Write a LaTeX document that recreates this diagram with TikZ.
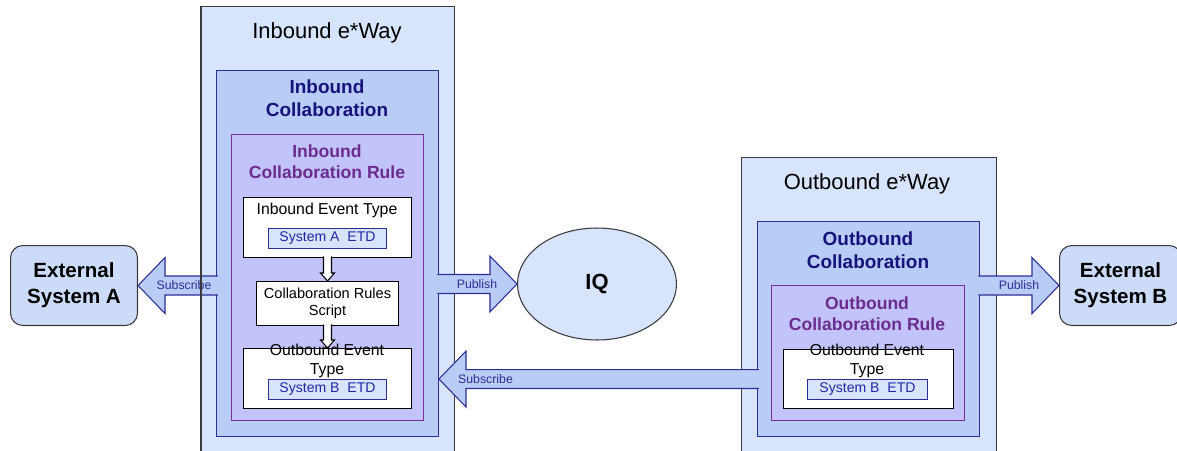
\documentclass[tikz,border=0pt]{standalone}
\usepackage{fontspec}
\setmainfont{Liberation Sans}
\usetikzlibrary{calc,shapes.geometric,positioning}

\definecolor{wayfill}{HTML}{D7E4FB}
\definecolor{waydraw}{HTML}{3A3A3A}
\definecolor{collfill}{HTML}{B9CCF6}
\definecolor{colldraw}{HTML}{2B2E96}
\definecolor{rulefill}{HTML}{C3C3FC}
\definecolor{ruledraw}{HTML}{7A2E9E}
\definecolor{navytext}{HTML}{14147A}
\definecolor{purpletext}{HTML}{6B2C8C}
\definecolor{etdtext}{HTML}{2626A6}
\definecolor{extfill}{HTML}{CCDCF8}

\tikzset{
  fat shaft/.store in=\fatshaft, fat head/.store in=\fathead, fat len/.store in=\fatlen,
  fat label/.store in=\fatlabel, fat gap/.store in=\fatgap,
  fat shaft=0.19cm, fat head=0.56cm, fat len=0.54cm, fat label=, fat gap=0.86cm,
  fatarrow/.style={to path={
    let \p1=($(\tikztostart)!-1pt!(\tikztotarget)$), \p2=(\tikztotarget),
        \p3=($(\p2)!\fatlen!(\p1)$) in
    ($(\p1)!\fatshaft!90:(\p2)$) -- ($(\p3)!\fatshaft!-90:(\p1)$) -- ($(\p3)!\fathead!-90:(\p1)$)
    -- (\p2) -- ($(\p3)!\fathead!90:(\p1)$) -- ($(\p3)!\fatshaft!90:(\p1)$) -- ($(\p1)!\fatshaft!-90:(\p2)$)
    ($(\p2)!\fatgap!(\p1)$) node[flowlabel] {\fatlabel}}},
}

\begin{document}
\begin{tikzpicture}[x=0.02cm, y=-0.02cm,
  box/.style={draw, line width=0.6pt, anchor=north west, inner sep=0pt},
  waybox/.style={box, draw=waydraw, fill=wayfill},
  collbox/.style={box, draw=colldraw, fill=collfill},
  rulebox/.style={box, draw=ruledraw, fill=rulefill},
  evtbox/.style={box, draw=black, fill=white},
  etdbox/.style={box, draw=colldraw, fill=wayfill, text=etdtext, font=\fontsize{8}{9.6}\selectfont},
  extbox/.style={box, draw=waydraw, fill=extfill, rounded corners=7pt, align=center, font=\fontsize{11.7}{14.8}\selectfont\bfseries},
  waytitle/.style={font=\fontsize{12.5}{15}\selectfont},
  colltitle/.style={align=center, text=navytext, font=\fontsize{10.8}{13.1}\selectfont\bfseries},
  ruletitle/.style={align=center, text=purpletext, font=\fontsize{10}{12}\selectfont\bfseries},
  evttext/.style={align=center, inner sep=0pt, font=\fontsize{9}{10.5}\selectfont},
  flowlabel/.style={text=colldraw, inner sep=0pt, font=\fontsize{7}{8}\selectfont},
  bigarrow/.style={fatarrow, fill=collfill, draw=colldraw, line width=0.6pt},
  smallarrow/.style={fatarrow, fill=white, draw=black, line width=0.6pt, fat shaft=0.08cm, fat head=0.14cm, fat len=0.16cm},
]
\useasboundingbox (0,0) rectangle (1177,450);
\node[waybox, minimum width=5.06cm, minimum height=9cm] (inWay) at (201,6) {};
\node[waybox, minimum width=5.1cm, minimum height=6cm] (outWay) at (741,157) {};
\node[collbox, minimum width=4.44cm, minimum height=7.32cm] (inColl) at (216,70) {};
\node[collbox, minimum width=4.44cm, minimum height=4.3cm] (outColl) at (757,221) {};
\node[rulebox, minimum width=3.84cm, minimum height=5.72cm] (inRule) at (231,134) {};
\node[rulebox, minimum width=3.86cm, minimum height=2.7cm] (outRule) at (771,285) {};
\node[evtbox, minimum width=3.36cm, minimum height=1.2cm] (inEvt) at (243,197) {};
\node[evtbox, minimum width=2.84cm, minimum height=0.88cm, align=center, font=\fontsize{8.3}{9.7}\selectfont] (script) at (256,281) {Collaboration Rules\\Script};
\node[evtbox, minimum width=3.36cm, minimum height=1.2cm] (midEvt) at (243,348) {};
\node[evtbox, minimum width=3.4cm, minimum height=1.18cm] (outEvt) at (783,349) {};
\node[etdbox, minimum width=2.36cm, minimum height=0.4cm] (etdA) at (268,228) {System A~ ETD};
\node[etdbox, minimum width=2.36cm, minimum height=0.4cm] (etdB) at (268,379) {System B~ ETD};
\node[etdbox, minimum width=2.4cm, minimum height=0.4cm] (etdOut) at (807,379) {System B~ ETD};
\node[extbox, minimum width=2.54cm, minimum height=1.6cm] (extA) at (10,245) {External\\System A};
\node[extbox, minimum width=2.44cm, minimum height=1.6cm] (extB) at (1059,245) {External\\System B};
\node[ellipse, draw=waydraw, fill=wayfill, line width=0.6pt, minimum width=3.18cm, minimum height=2.24cm, inner sep=0pt, font=\fontsize{12.5}{15}\selectfont\bfseries] (iq) at (597,284) {IQ};
\node[waytitle] (inWayT) at (327,33) {Inbound e*Way};
\node[waytitle] (outWayT) at (867,184) {Outbound e*Way};
\node[colltitle] (inCollT) at (327,98) {Inbound\\Collaboration};
\node[colltitle] (outCollT) at (868,250) {Outbound\\Collaboration};
\node[ruletitle] (inRuleT) at (327,162) {Inbound\\Collaboration Rule};
\node[ruletitle] (outRuleT) at (867,314) {Outbound\\Collaboration Rule};
\node[evttext] (inEvtT) at (327,210) {Inbound Event Type};
\node[evttext] (midEvtT) at (327,361) {Outbound Event\\Type};
\node[evttext] (outEvtT) at (867,361) {Outbound Event\\Type};
\draw[bigarrow, fat label=Subscribe, fat gap=0.92cm] (inColl.west |- extA.east) to (extA.east);
\draw[waydraw, line width=0.6pt] (inWay.north west) -- (inWay.south west);
\draw[bigarrow, fat label=Publish, fat gap=0.8cm] (inColl.east |- iq.west) to (iq.west);
\draw[bigarrow, fat label=Subscribe, fat gap=0.93cm] (outColl.west |- outEvt.west) to (inColl.east |- outEvt.west);
\draw[bigarrow, fat label=Publish, fat gap=0.8cm] (outColl.east |- extB.west) to (extB.west);
\draw[smallarrow] (inEvt.south) to (script.north);
\draw[smallarrow] (script.south) to (midEvt.north);
\end{tikzpicture}
\end{document}
